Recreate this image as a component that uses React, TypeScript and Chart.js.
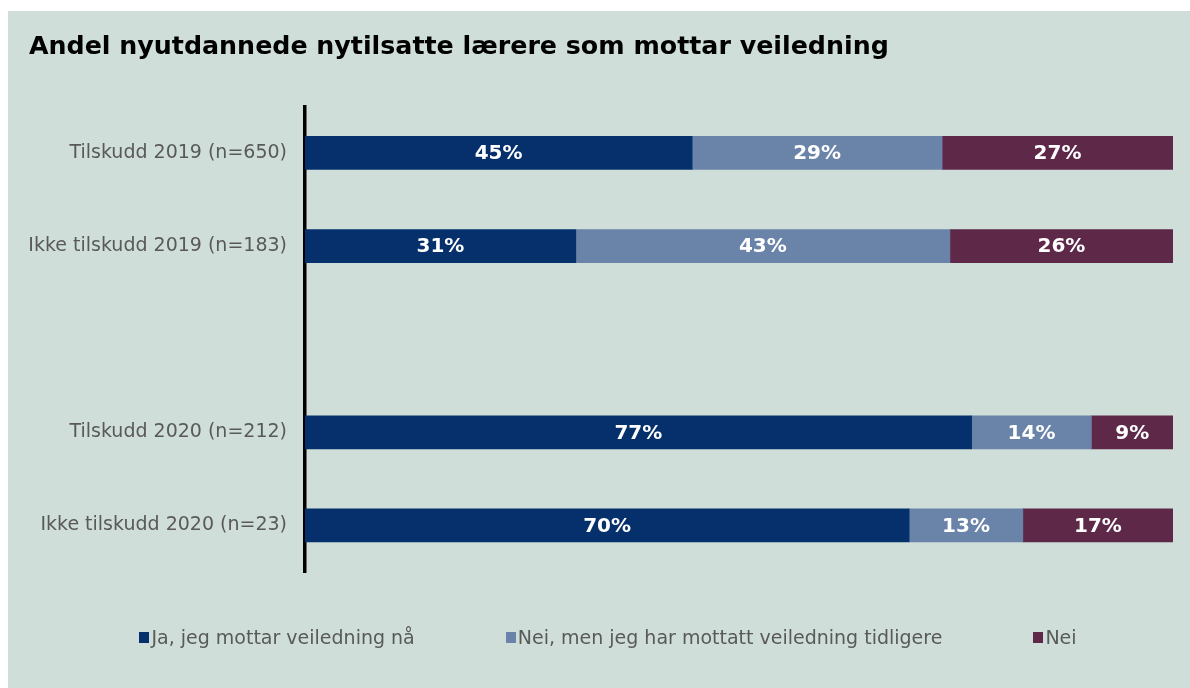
import React, { useEffect, useRef } from "react";
import { Chart, registerables } from "chart.js";

Chart.register(...registerables);

const titleText = "Andel nyutdannede nytilsatte lærere som mottar veiledning";
const categories = [
  "Tilskudd 2019 (n=650)",
  "Ikke tilskudd 2019 (n=183)",
  "",
  "Tilskudd 2020 (n=212)",
  "Ikke tilskudd 2020 (n=23)",
];
const seriesNames = [
  "Ja, jeg mottar veiledning nå",
  "Nei, men jeg har mottatt veiledning tidligere",
  "Nei",
];
const jaValues = [44.6, 31.2, null, 76.8, 69.6];
const tidligereValues = [28.8, 43.1, null, 13.8, 13.1];
const neiValues = [26.6, 25.7, null, 9.4, 17.3];
const seriesColors = ["#05306b", "#6a83a8", "#5e2849"];

const FONT = "'DejaVu Sans', Verdana, sans-serif";

const dataLabelPlugin = {
  id: "segLabels",
  afterDatasetsDraw(chart: any) {
    const ctx = chart.ctx;
    ctx.save();
    ctx.fillStyle = "#ffffff";
    ctx.font = `bold 20px ${FONT}`;
    ctx.textAlign = "center";
    ctx.textBaseline = "middle";
    chart.data.datasets.forEach((ds: any, i: number) => {
      const meta = chart.getDatasetMeta(i);
      meta.data.forEach((bar: any, j: number) => {
        const v = ds.data[j];
        if (v == null) return;
        const p = bar.getProps(["x", "base", "y"], true);
        ctx.fillText(`${Math.round(v)}%`, (p.x + p.base) / 2, p.y + 1);
      });
    });
    ctx.restore();
  },
};

export default function App() {
  const canvasRef = useRef<HTMLCanvasElement>(null);

  useEffect(() => {
    if (!canvasRef.current) return;
    const values = [jaValues, tidligereValues, neiValues];
    const chart = new Chart(canvasRef.current, {
      type: "bar",
      data: {
        labels: categories,
        datasets: seriesNames.map((name, i) => ({
          label: name,
          data: values[i],
          backgroundColor: seriesColors[i],
          borderWidth: 0,
          barThickness: 33,
        })),
      },
      options: {
        indexAxis: "y",
        animation: false,
        responsive: true,
        maintainAspectRatio: false,
        layout: { padding: { left: 21, right: 17, top: 0, bottom: 116 } },
        scales: {
          x: { stacked: true, display: false, min: 0, max: 100 },
          y: {
            stacked: true,
            grid: { display: false, drawTicks: false },
            border: { display: true, color: "#000000", width: 3.5 },
            ticks: {
              color: "#595959",
              padding: 18,
              font: { family: FONT, size: 19 },
            },
            afterFit: (s: any) => {
              s.width = 276;
            },
          },
        },
        plugins: {
          legend: { display: false },
          tooltip: { enabled: false },
          title: {
            display: true,
            text: titleText,
            align: "start",
            color: "#000000",
            font: { family: FONT, size: 25.3, weight: "bold" },
            padding: { top: 21, bottom: 44 },
          },
        },
      },
      plugins: [dataLabelPlugin],
    });
    return () => chart.destroy();
  }, []);

  return (
    <div
      style={{
        position: "absolute",
        left: 8,
        top: 11,
        width: 1182,
        height: 677,
        background: "#cfded8",
      }}
    >
      <canvas ref={canvasRef} />
      <div
        style={{
          position: "absolute",
          left: 18,
          right: 0,
          top: 614,
          display: "flex",
          justifyContent: "center",
          gap: 91,
          fontFamily: FONT,
          fontSize: 19,
          color: "#595959",
          lineHeight: "24px",
        }}
      >
        {seriesNames.map((name, i) => (
          <div key={name} style={{ display: "flex", alignItems: "center" }}>
            <span
              style={{
                display: "inline-block",
                width: 10,
                height: 11,
                background: seriesColors[i],
                marginRight: 2,
              }}
            />
            <span>{name}</span>
          </div>
        ))}
      </div>
    </div>
  );
}
